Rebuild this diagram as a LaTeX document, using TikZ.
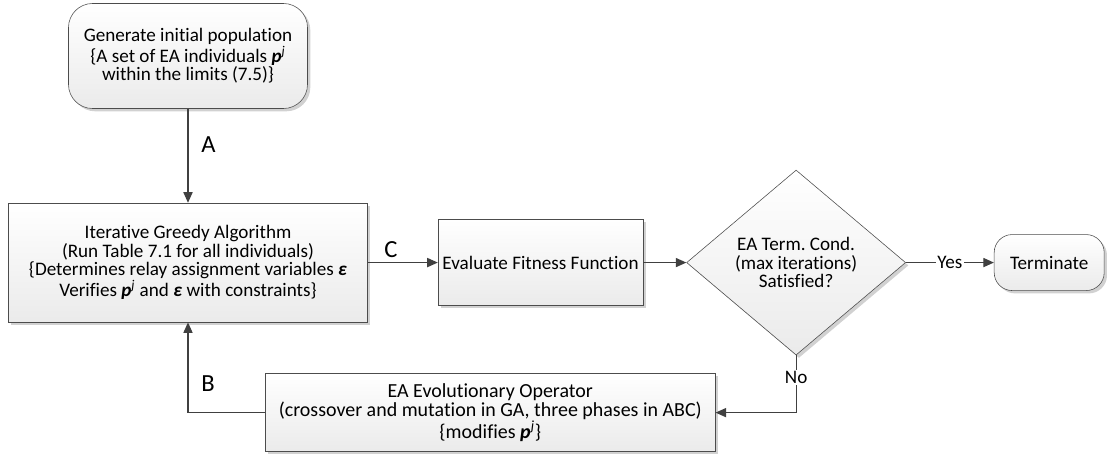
\documentclass[tikz,border=0pt]{standalone}
\usepackage{fontspec}
\setmainfont{Carlito}[Ligatures=NoCommon]
\usetikzlibrary{positioning, shapes.geometric, shadows, arrows.meta}
\frenchspacing

\newcommand{\pvec}{\textbf{\textit{p}}\textsuperscript{\textit{j}}}
\newcommand{\epsvec}{\textbf{\textit{ε}}}

\begin{document}
\begin{tikzpicture}[
            block/.style={draw=black!70, rectangle, top color=white, bottom color=gray!16, drop shadow={shadow xshift=2pt, shadow yshift=-2pt, fill=gray!60, opacity=0.6}, align=center, inner xsep=2pt, font=\fontsize{13.6}{12.9}\selectfont},
            terminal/.style={block},
            decision/.style={block, diamond, inner sep=0pt},
            edge/.style={draw=black!75, line width=0.85pt, -{Triangle[length=7.5pt, width=6.5pt]}},
            edgelabel/.style={font=\fontsize{17.5}{19}\selectfont},
            answer/.style={fill=white, inner sep=1pt, font=\fontsize{13.6}{12.9}\selectfont}
        ]

        \useasboundingbox (0,0) rectangle (27.675,-11.425);

        % Nodes
        \node[terminal, rounded corners=0.6cm, minimum width=5.975cm, minimum height=2.625cm] (start) at (4.7,-1.4) {Generate initial population\\\{A set of EA individuals \pvec\\within the limits (7.5)\}};
        \node[block, minimum width=8.975cm, minimum height=2.975cm, below=2.35cm of start] (greedy) {Iterative Greedy Algorithm\\(Run Table 7.1 for all individuals)\\\{Determines relay assignment variables \epsvec\\Verifies \pvec{} and \epsvec{} with constraints\}};
        \node[block, minimum width=5.125cm, minimum height=2.15cm, right=1.75cm of greedy] (fitness) {Evaluate Fitness Function};
        \node[decision, minimum width=5.475cm, minimum height=4.625cm, right=1.075cm of fitness] (cond) {EA Term. Cond.\\(max iterations)\\Satisfied?};
        \node[terminal, rounded corners=0.45cm, minimum width=2.75cm, minimum height=1.4cm, right=2.2cm of cond] (stop) {Terminate};
        \node[block, font=\fontsize{14.2}{13.6}\selectfont, minimum width=11.25cm, minimum height=1.95cm, below right=1.275cm and 1.925cm of greedy.south] (evo) {EA Evolutionary Operator\\(crossover and mutation in GA, three phases in ABC)\\\{modifies \pvec\}};

        % Edges
        \draw[edge] (start.south) -- (greedy.north) node[pos=0.38, right=0.2cm, edgelabel] {A};

        \draw[edge] (greedy.east) -- (fitness.west) node[pos=0.33, above, edgelabel] {C};

        \draw[edge] (fitness.east) -- (cond.west);

        \draw[edge] (cond.east) -- (stop.west) node[midway, answer] {Yes};

        \draw[edge] (cond.south) |- (evo.east) node[pos=0.19, answer] {No};

        \draw[edge] (evo.west) -| (greedy.south) node[pos=0.66, right=0.2cm, edgelabel] {B};

    \end{tikzpicture}
\end{document}
